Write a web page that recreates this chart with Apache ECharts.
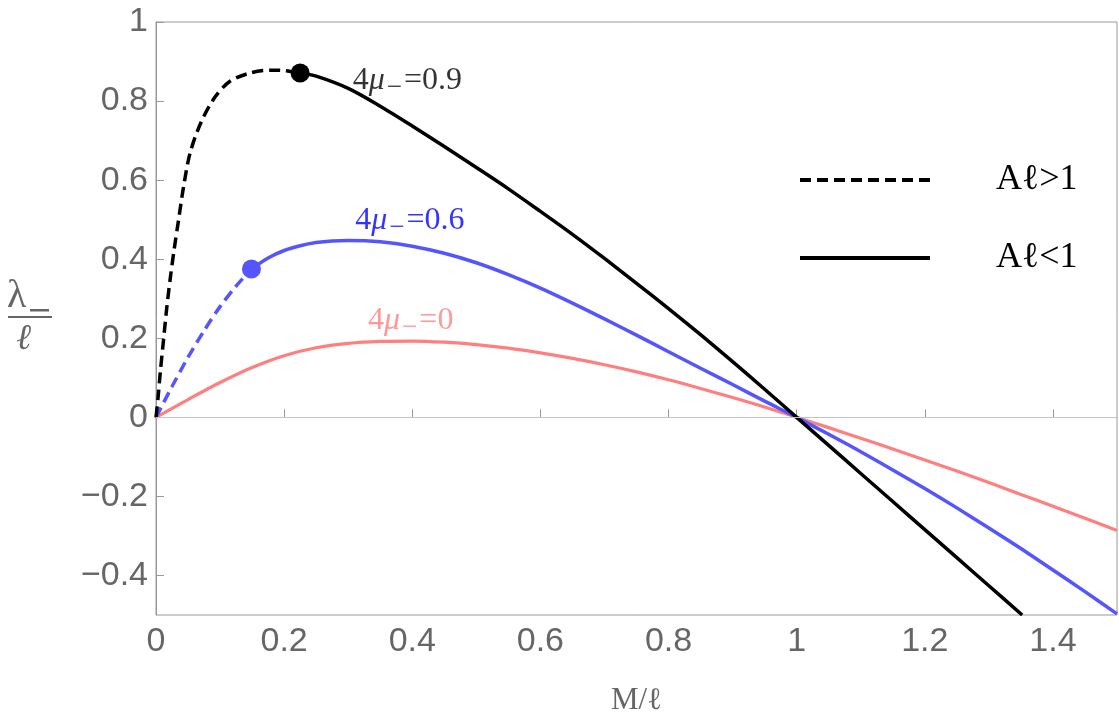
<!DOCTYPE html>
<html>
<head>
<meta charset="utf-8">
<script src="https://cdn.jsdelivr.net/npm/echarts@6/dist/echarts.min.js"></script>
<style>
  html, body { margin: 0; padding: 0; background: #fff; }
  #chart { width: 1119px; height: 728px; }
</style>
</head>
<body>
<div id="chart"></div>
<script>
// 4mu = 0 (pink)
const pinkX = [0, 0.05, 0.1, 0.15, 0.2, 0.25, 0.3, 0.35, 0.4, 0.45, 0.5, 0.55, 0.6, 0.65, 0.7, 0.75, 0.8, 0.85, 0.9, 0.95, 1.0,
    1.05, 1.1, 1.15, 1.2, 1.25, 1.3, 1.35, 1.4, 1.45, 1.5]
const pinkY = [0, 0.045, 0.088, 0.126, 0.156, 0.176, 0.187, 0.192, 0.193, 0.190, 0.184, 0.175, 0.163, 0.149, 0.133, 0.115, 0.095, 0.073, 0.050, 0.026, 0,
    -0.026, -0.053, -0.080, -0.108, -0.136, -0.165, -0.195, -0.225, -0.255, -0.286]

// 4mu = 0.6 (blue), dashed part then solid part
const blueDashX = [0, 0.025, 0.05, 0.075, 0.1, 0.125, 0.149]
const blueDashY = [0, 0.078, 0.152, 0.219, 0.280, 0.332, 0.375]
const blueSolidX = [0.149, 0.175, 0.2, 0.225, 0.25, 0.275, 0.3, 0.35, 0.4, 0.45, 0.5, 0.55, 0.6, 0.65, 0.7, 0.75, 0.8, 0.85, 0.9, 0.95, 1.0,
    1.05, 1.1, 1.15, 1.2, 1.25, 1.3, 1.35, 1.4, 1.45, 1.5]
const blueSolidY = [0.375, 0.403, 0.422, 0.434, 0.442, 0.446, 0.447, 0.444, 0.433, 0.415, 0.391, 0.361, 0.327, 0.289, 0.249, 0.208, 0.166, 0.124, 0.083, 0.041, 0,
    -0.043, -0.087, -0.133, -0.180, -0.229, -0.280, -0.332, -0.386, -0.441, -0.497]

// 4mu = 0.9 (black), dashed part then solid part
const blackDashX = [0, 0.0031, 0.007, 0.0117, 0.0164, 0.0219, 0.0281, 0.0351, 0.0429, 0.0531, 0.0702, 0.0921, 0.1155, 0.1467, 0.1779, 0.2013, 0.225]
const blackDashY = [0, 0.048, 0.119, 0.195, 0.271, 0.347, 0.422, 0.498, 0.582, 0.668, 0.746, 0.810, 0.850, 0.871, 0.878, 0.877, 0.871]
const blackSolidX = [0.225, 0.25, 0.3, 0.35, 0.4, 0.45, 0.5, 0.55, 0.6, 0.65, 0.7, 0.75, 0.8, 0.85, 0.9, 0.95, 1.0,
    1.05, 1.1, 1.15, 1.2, 1.25, 1.3, 1.352]
const blackSolidY = [0.871, 0.863, 0.832, 0.787, 0.737, 0.685, 0.632, 0.578, 0.521, 0.463, 0.402, 0.339, 0.275, 0.209, 0.141, 0.071, 0,
    -0.071, -0.142, -0.213, -0.284, -0.355, -0.426, -0.5]

// transition points (dots)
const dotX = [0.225, 0.149]
const dotY = [0.871, 0.375]

// curve labels
const curveLabels = ['0.9', '0.6', '0']
const curveLabelX = [0.307, 0.311, 0.331]
const curveLabelY = [0.853, 0.498, 0.245]

const xTicks = [0, 0.2, 0.4, 0.6, 0.8, 1, 1.2, 1.4]
const yTicks = [-0.4, -0.2, 0, 0.2, 0.4, 0.6, 0.8, 1]

const zip = (xs, ys) => xs.map((x, i) => [x, ys[i]])

const PINK = '#ff7f7f'
const BLUE = '#5555ff'
const GREY = '#666'
const SERIF = '"Liberation Serif", "DejaVu Serif", serif'
const labelColors = ['#000', '#0000ff', '#ff8080']

const fmt = v => {
    const s = String(+Math.abs(v).toFixed(1))
    return v < 0 ? '\u2212' + s : s
}

const chart = echarts.init(document.getElementById('chart'))

const lineBase = {
    type: 'line',
    showSymbol: false,
    symbol: 'none',
    smooth: 0.3,
    silent: true,
    animation: false
}

const richFor = color => ({
    a: { fontFamily: SERIF, fontSize: 32, color: color },
    m: { fontFamily: SERIF, fontSize: 32, fontStyle: 'italic', color: color },
    s: { fontFamily: SERIF, fontSize: 27, color: color, padding: [15, 2, 0, 2] }
})

chart.setOption({
    animation: false,
    backgroundColor: '#fff',
    grid: {
        left: 156, right: 2, top: 22, bottom: 113,
        show: true, borderColor: '#999', borderWidth: 1
    },
    legend: {
        data: ['A\u2113>1', 'A\u2113<1'],
        orient: 'vertical',
        left: 793,
        top: 157,
        itemWidth: 130,
        itemHeight: 14,
        itemGap: 42,
        selectedMode: false,
        itemStyle: { color: 'rgba(0,0,0,0)', borderWidth: 0 },
        lineStyle: { width: 4, type: 'inherit' },
        textStyle: {
            fontFamily: SERIF, fontSize: 36, color: '#000',
            padding: [0, 0, 0, 61], lineHeight: 36
        }
    },
    xAxis: {
        type: 'value',
        min: 0, max: 1.5,
        name: 'M/\u2113',
        nameLocation: 'middle',
        nameGap: 70,
        nameTextStyle: { fontFamily: SERIF, fontSize: 31, color: GREY },
        axisLine: { show: true, lineStyle: { color: '#999', width: 1 } },
        axisTick: { show: true, inside: true, length: 8, lineStyle: { color: '#999' }, customValues: xTicks },
        axisLabel: {
            customValues: xTicks, formatter: fmt, margin: 10,
            fontFamily: '"Liberation Sans", Arial, sans-serif', fontSize: 34, color: GREY
        },
        splitLine: { show: false }
    },
    yAxis: {
        type: 'value',
        min: -0.5, max: 1,
        axisLine: { show: true, onZero: false, lineStyle: { color: '#999', width: 1 } },
        axisTick: { show: true, inside: true, length: 8, lineStyle: { color: '#999' }, customValues: yTicks },
        axisLabel: {
            customValues: yTicks, formatter: fmt, margin: 8,
            fontFamily: '"Liberation Sans", Arial, sans-serif', fontSize: 34, color: GREY
        },
        splitLine: { show: false }
    },
    graphic: [
        // y-axis title as a fraction  λ₋ / ℓ
        { type: 'text', left: 7, top: 276, style: { text: '\u03bb', font: '40px ' + SERIF, fill: GREY } },
        { type: 'rect', shape: { x: 30, y: 309, width: 19, height: 2.5 }, style: { fill: GREY } },
        { type: 'rect', shape: { x: 8, y: 316, width: 44, height: 2 }, style: { fill: GREY } },
        { type: 'text', left: 16, top: 322, style: { text: '\u2113', font: 'italic 36px ' + SERIF, fill: GREY } }
    ],
    series: [
        Object.assign({}, lineBase, {
            name: 'pink',
            data: zip(pinkX, pinkY),
            lineStyle: { color: PINK, width: 3.2 },
            itemStyle: { color: PINK },
            z: 2,
            markLine: {
                silent: true, symbol: ['none', 'none'], label: { show: false },
                lineStyle: { color: '#c4c4c4', width: 1, type: 'solid' },
                data: [{ yAxis: 0 }]
            }
        }),
        Object.assign({}, lineBase, {
            name: 'blueDash',
            data: zip(blueDashX, blueDashY),
            lineStyle: { color: BLUE, width: 3.5, type: [11, 6] },
            itemStyle: { color: BLUE },
            z: 3
        }),
        Object.assign({}, lineBase, {
            name: 'blueSolid',
            data: zip(blueSolidX, blueSolidY),
            lineStyle: { color: BLUE, width: 3.5 },
            itemStyle: { color: BLUE },
            z: 3
        }),
        Object.assign({}, lineBase, {
            name: 'A\u2113>1',
            data: zip(blackDashX, blackDashY),
            lineStyle: { color: '#000', width: 3.5, type: [11, 6] },
            itemStyle: { color: '#000' },
            z: 4
        }),
        Object.assign({}, lineBase, {
            name: 'A\u2113<1',
            data: zip(blackSolidX, blackSolidY),
            lineStyle: { color: '#000', width: 3.5 },
            itemStyle: { color: '#000' },
            z: 4
        }),
        {
            type: 'scatter',
            name: 'dots',
            silent: true,
            symbolSize: 19,
            data: zip(dotX, dotY).map((p, i) => ({ value: p, itemStyle: { color: i === 0 ? '#000' : BLUE, opacity: 1 } })),
            z: 5
        },
        {
            type: 'scatter',
            name: 'labels',
            silent: true,
            symbolSize: 0,
            data: zip(curveLabelX, curveLabelY).map((p, i) => ({
                value: p,
                label: {
                    show: true,
                    position: [0, 0],
                    align: 'left',
                    verticalAlign: 'middle',
                    formatter: '{a|4}{m|\u03bc}{s|\u2212}{a|=' + curveLabels[i] + '}',
                    rich: richFor(labelColors[i])
                }
            })),
            z: 6
        }
    ]
})
</script>
</body>
</html>
